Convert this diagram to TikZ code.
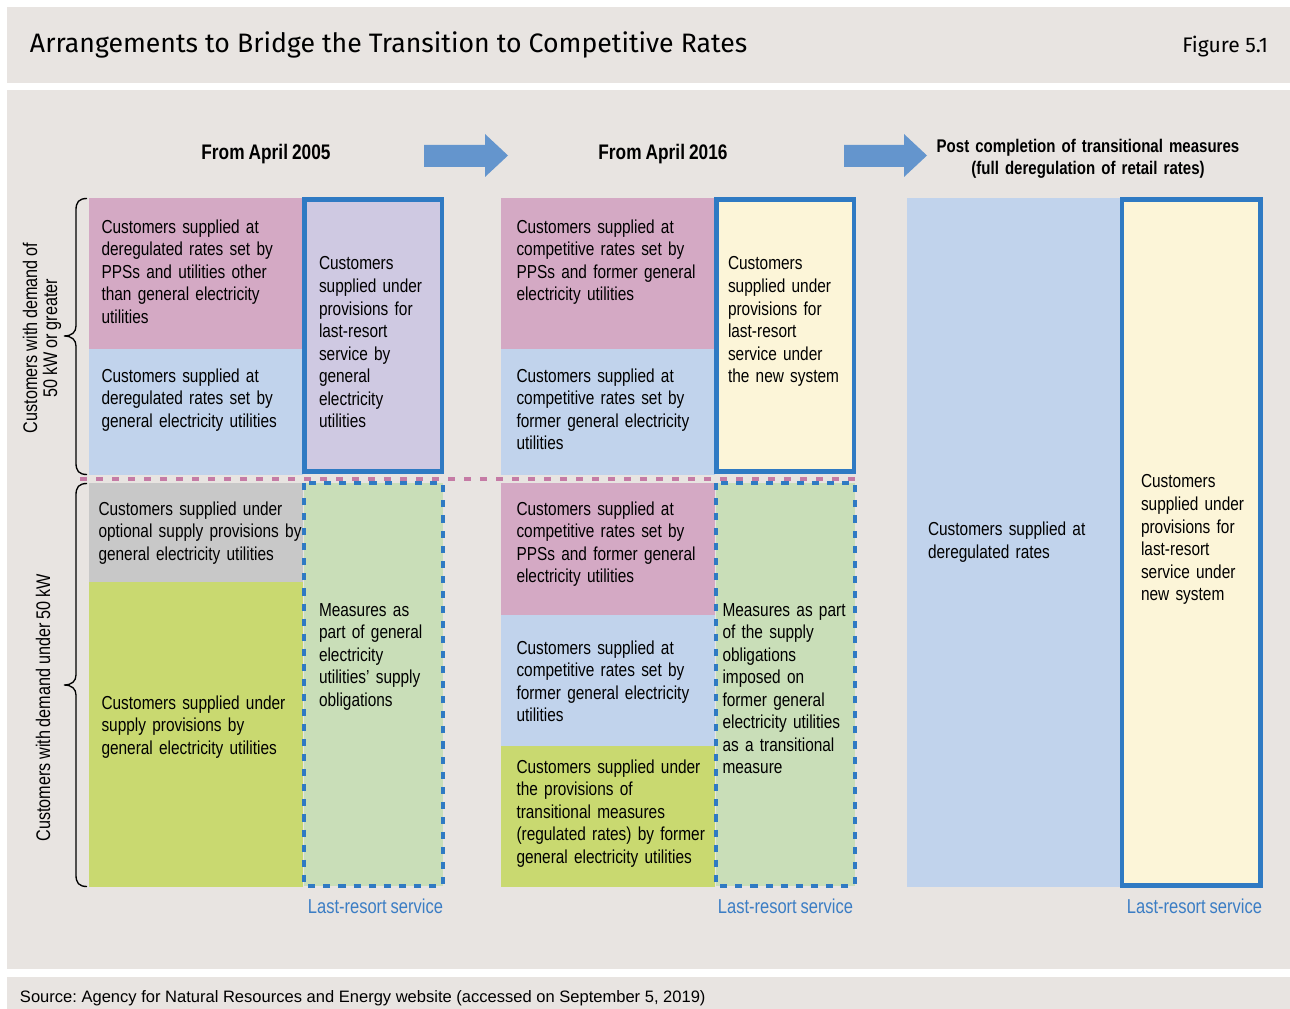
\documentclass[tikz,border=0pt]{standalone}
\usepackage{fontspec}
\setmainfont[FakeStretch=0.82,WordSpace=0.85]{Liberation Sans}
\newfontfamily\titlefont{Fira Sans}
\newfontfamily\srcfont{Liberation Sans}
\definecolor{panel}{HTML}{E8E4E1}
\definecolor{pinkc}{HTML}{D4A9C4}
\definecolor{bluec}{HTML}{C1D3EC}
\definecolor{lavc}{HTML}{CFC9E2}
\definecolor{greyc}{HTML}{C8C8C8}
\definecolor{ygreen}{HTML}{C9D970}
\definecolor{lgreen}{HTML}{C9DEB8}
\definecolor{cream}{HTML}{FCF5D8}
\definecolor{bordc}{HTML}{2F7AC3}
\definecolor{arrowc}{HTML}{6495CD}
\definecolor{pinkline}{HTML}{C57BA5}
\definecolor{lrblue}{HTML}{3B7DC4}
\frenchspacing
\begin{document}
\begin{tikzpicture}[x=0.75pt,y=-0.75pt,
  every node/.style={inner sep=0pt,outer sep=0pt},
  body/.style={anchor=base west,text width=200pt,align=left,
    font=\fontsize{14.1}{16.9}\selectfont},
  hdr/.style={anchor=base,font=\bfseries\fontsize{15.8}{18}\selectfont},
  lastres/.style={anchor=base east,text=lrblue,font=\fontsize{15.1}{16.9}\selectfont},
  sidelabel/.style={rotate=90,align=center,font=\fontsize{14.8}{15}\selectfont},
  solidbox/.style={draw=bordc,line width=3.3pt},
  dashbox/.style={draw=bordc,line width=3pt,dash pattern=on 5.3pt off 6pt},
  divider/.style={draw=pinkline,line width=3pt,dash pattern=on 5.6pt off 6.4pt},
  bracepath/.style={draw=black,line width=1pt},
  blockarrow/.style={fill=arrowc}]
\useasboundingbox (0,0) rectangle (1290,1009);
\fill[white] (0,0) rectangle (1290,1009);

% panels
\fill[panel] (7,7) rectangle (1290,83);
\fill[panel] (7,90) rectangle (1290,969);
\fill[panel] (7,977) rectangle (1290,1009);

% title bar
\node[anchor=base west,font=\titlefont\fontsize{20}{22}\selectfont] (title) at (30,53)
  {Arrangements to Bridge the Transition to Competitive Rates};
\node[anchor=base east,font=\titlefont\fontsize{15.8}{17}\selectfont] (fig) at (1268,53) {Figure 5.1};

% column headings and block arrows
\node[hdr] (h1) at (266,160) {From April 2005};
\node[hdr] (h2) at (663,160) {From April 2016};
\node[anchor=base,text width=280pt,align=center,font=\bfseries\fontsize{13.75}{15.8}\selectfont] (h3) at (1088,153)
  {Post completion of transitional measures\\(full deregulation of retail rates)};
\fill[blockarrow] (424,145) -- (485,145) -- (485,134) -- (508,155.5) -- (485,177) -- (485,167) -- (424,167) -- cycle;
\fill[blockarrow] (844,145) -- (904,145) -- (904,134) -- (927,155.5) -- (904,177) -- (904,167) -- (844,167) -- cycle;

% --- April 2005 ---
\fill[pinkc] (89,198) rectangle (303,349);
\fill[bluec] (89,349) rectangle (303,475);
\path[fill=lavc,solidbox] (304.5,199.5) rectangle (442,471.5);
\fill[greyc] (89,483) rectangle (303,582);
\fill[ygreen] (89,582) rectangle (303,887);
\path[fill=lgreen,dashbox] (304,483) rectangle (442.5,885.5);

\node[body] (a1) at (101.5,233.3) {Customers supplied at\\deregulated rates set by\\PPSs and utilities other\\than general electricity\\utilities};
\node[body] (a2) at (101.5,382.3) {Customers supplied at\\deregulated rates set by\\general electricity utilities};
\node[body] (a3) at (319,270) {Customers\\supplied under\\provisions for\\last-resort\\service by\\general\\electricity\\utilities};
\node[body] (a4) at (98.5,515) {Customers supplied under\\optional supply provisions by\\general electricity utilities};
\node[body] (a5) at (101.5,709.3) {Customers supplied under\\supply provisions by\\general electricity utilities};
\node[body] (a6) at (319,616) {Measures as\\part of general\\electricity\\utilities’ supply\\obligations};
\node[lastres] (l1) at (443,913) {Last-resort service};

% --- April 2016 ---
\fill[pinkc] (501,198) rectangle (715,349);
\fill[bluec] (501,349) rectangle (715,475);
\path[fill=cream,solidbox] (716.5,199.5) rectangle (854,471.5);
\fill[pinkc] (501,483) rectangle (715,615);
\fill[bluec] (501,615) rectangle (715,746);
\fill[ygreen] (501,746) rectangle (715,887);
\path[fill=lgreen,dashbox] (716,483) rectangle (854.5,885.5);

\node[body] (b1) at (516.5,233.3) {Customers supplied at\\competitive rates set by\\PPSs and former general\\electricity utilities};
\node[body] (b2) at (516.5,382.3) {Customers supplied at\\competitive rates set by\\former general electricity\\utilities};
\node[body] (b3) at (728,270) {Customers\\supplied under\\provisions for\\last-resort\\service under\\the new system};
\node[body] (b4) at (516.5,515) {Customers supplied at\\competitive rates set by\\PPSs and former general\\electricity utilities};
\node[body] (b5) at (516.5,654) {Customers supplied at\\competitive rates set by\\former general electricity\\utilities};
\node[body] (b6) at (516.5,773.3) {Customers supplied under\\the provisions of\\transitional measures\\(regulated rates) by former\\general electricity utilities};
\node[body] (b7) at (722.5,616) {Measures as part\\of the supply\\obligations\\imposed on\\former general\\electricity utilities\\as a transitional\\measure};
\node[lastres] (l2) at (853,913) {Last-resort service};

% --- after full deregulation ---
\fill[bluec] (907,198) rectangle (1121,887);
\path[fill=cream,solidbox] (1122,199.5) rectangle (1260.5,885.5);
\node[body] (c1) at (928,535.5) {Customers supplied at\\deregulated rates};
\node[body] (c2) at (1141,488) {Customers\\supplied under\\provisions for\\last-resort\\service under\\new system};
\node[lastres] (l3) at (1262,913) {Last-resort service};

% 50 kW boundary
\coordinate (divL) at (80,479);
\coordinate (divR) at (856,479);
\draw[divider] (divL) -- (divR);

% braces and demand labels
\coordinate (u1) at (87,198.5);
\coordinate (utip) at (64,336);
\coordinate (u2) at (87,474.5);
\draw[bracepath] (u1) .. controls (79,198.5) and (76,202) .. (76,210) -- (76,326)
  .. controls (76,332) and (72,336) .. (utip)
  .. controls (72,336) and (76,340) .. (76,346) -- (76,463)
  .. controls (76,471) and (79,474.5) .. (u2);
\coordinate (d1) at (87,483.5);
\coordinate (dtip) at (64,685);
\coordinate (d2) at (87,886.5);
\draw[bracepath] (d1) .. controls (79,483.5) and (76,487) .. (76,495) -- (76,675)
  .. controls (76,681) and (72,685) .. (dtip)
  .. controls (72,685) and (76,689) .. (76,695) -- (76,875)
  .. controls (76,883) and (79,886.5) .. (d2);
\node[sidelabel] (s1) at (42,338) {Customers with demand of\\50 kW or greater};
\node[sidelabel] (s2) at (43,708) {Customers with demand under 50 kW};

% source line
\node[anchor=base west,font=\srcfont\fontsize{12.4}{14}\selectfont] (src) at (20,1002)
  {Source: Agency for Natural Resources and Energy website (accessed on September 5, 2019)};
\end{tikzpicture}
\end{document}
